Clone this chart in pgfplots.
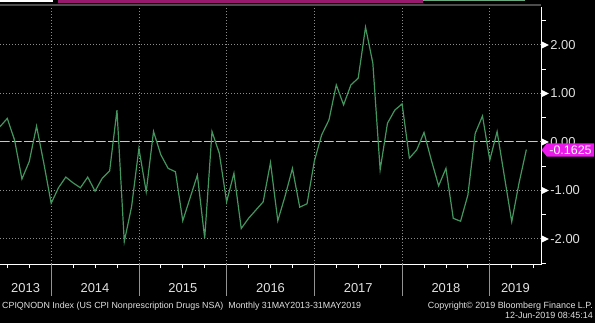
\documentclass[border=0pt]{standalone}
\usepackage{fontspec}
\setmainfont{Liberation Sans}
\usepackage{pgfplots}
\pgfplotsset{compat=1.18}
\definecolor{bgreen}{RGB}{66,150,94}
\definecolor{gridgray}{RGB}{140,140,140}
\definecolor{zerogray}{RGB}{200,200,200}
\definecolor{lbl}{RGB}{225,225,225}
\definecolor{mag}{RGB}{235,25,235}
\definecolor{darkmag}{RGB}{150,25,110}
\newcommand\tri{\tikz[baseline=-0.6ex]\fill[white] (0bp,-3.5bp)--(7bp,0bp)--(0bp,3.5bp)--cycle;\hspace{1.5bp}}
\pgfplotstableread{
k v
0 0.31
1 0.48
2 0.03
3 -0.77
4 -0.41
5 0.32
6 -0.45
7 -1.27
8 -0.95
9 -0.73
10 -0.85
11 -0.95
12 -0.73
13 -1.02
14 -0.75
15 -0.60
16 0.65
17 -2.06
18 -1.34
19 -0.14
20 -1.03
21 0.21
22 -0.27
23 -0.55
24 -0.62
25 -1.63
26 -1.16
27 -0.69
28 -1.99
29 0.21
30 -0.24
31 -1.24
32 -0.65
33 -1.79
34 -1.58
35 -1.41
36 -1.24
37 -0.43
38 -1.63
39 -1.12
40 -0.55
41 -1.35
42 -1.28
43 -0.40
44 0.14
45 0.45
46 1.17
47 0.76
48 1.17
49 1.31
50 2.36
51 1.62
52 -0.58
53 0.38
54 0.65
55 0.78
56 -0.34
57 -0.17
58 0.19
59 -0.38
60 -0.91
61 -0.55
62 -1.58
63 -1.64
64 -1.10
65 0.17
66 0.53
67 -0.38
68 0.21
69 -0.72
70 -1.65
71 -0.85
72 -0.1625
}\cpidata
\begin{document}
\begin{tikzpicture}[x=1bp,y=1bp]
\fill[black] (0,0) rectangle (595,323);
\useasboundingbox (0,0) rectangle (595,323);
% top decoration bars
\fill[white] (0,321) rectangle (53,323);
\fill[darkmag] (58,320) rectangle (423,323);
\fill[bgreen!80!white] (423,322) rectangle (525,323);
\fill[gray!60!black] (0,316.5) rectangle (541,319);
\begin{axis}[
  at={(0bp,59bp)}, anchor=south west,
  scale only axis, width=541.7bp, height=257bp,
  xmin=0, xmax=74.1, ymin=-2.522, ymax=2.777,
  axis x line*=bottom, axis y line*=right,
  axis line style={white, line width=0.8bp},
  tick align=outside,
  xtick={7,19,31,43,55,67}, xticklabels={},
  minor xtick={1,4,10,13,16,22,25,28,34,37,40,46,49,52,58,61,64,70,73},
  ytick={-2,-1,0,1,2},
  yticklabels={\tri-2.00,\tri-1.00,\tri0.00,\tri1.00,\tri2.00},
  minor ytick={-2.5,-1.5,-0.5,0.5,1.5,2.5},
  major tick length=4bp, minor tick length=4bp,
  tick style={white, line width=0.8bp},
  grid=major,
  major grid style={gridgray, line width=0.8bp, dash pattern=on 1bp off 2bp},
  yticklabel style={anchor=west, inner sep=0pt, xshift=-4bp, font=\fontsize{13}{15}\selectfont, text=lbl},
]
\addplot[zerogray, line width=0.8bp, dash pattern=on 9bp off 3bp] coordinates {(0,0) (74.1,0)};
\addplot[bgreen, line width=1.2bp] table[x=k, y=v] {\cpidata};
\end{axis}
% year separators below axis
\foreach \xx in {51.2,138.9,226.6,314.3,402.0,489.8}
  \draw[gray!85!white, line width=0.8bp] (\xx,59) -- (\xx,27);
\foreach \xx/\yy in {25.6/2013,95/2014,182.8/2015,270.5/2016,358.2/2017,445.9/2018,515.4/2019}
  \node[font=\fontsize{13}{15}\selectfont, text=lbl] at (\xx,35) {\yy};
% last value label
\fill[mag] (541.5,173) -- (547,179.7) -- (594,179.7) -- (594,166.3) -- (547,166.3) -- cycle;
\node[font=\fontsize{12.5}{14}\selectfont, text=white] at (570.5,173) {-0.1625};
% footer texts
\node[anchor=base west, inner sep=0pt, font=\fontsize{8.9}{10}\selectfont, text=lbl] at (2,14.7) {CPIQNODN Index (US CPI Nonprescription Drugs NSA)\hspace{5bp}Monthly 31MAY2013-31MAY2019};
\node[anchor=base east, inner sep=0pt, font=\fontsize{9}{10}\selectfont, text=lbl] at (593,14.7) {Copyright© 2019 Bloomberg Finance L.P.};
\node[anchor=base east, inner sep=0pt, font=\fontsize{9}{10}\selectfont, text=lbl] at (593,4.7) {12-Jun-2019 08:45:14};
\end{tikzpicture}
\end{document}
